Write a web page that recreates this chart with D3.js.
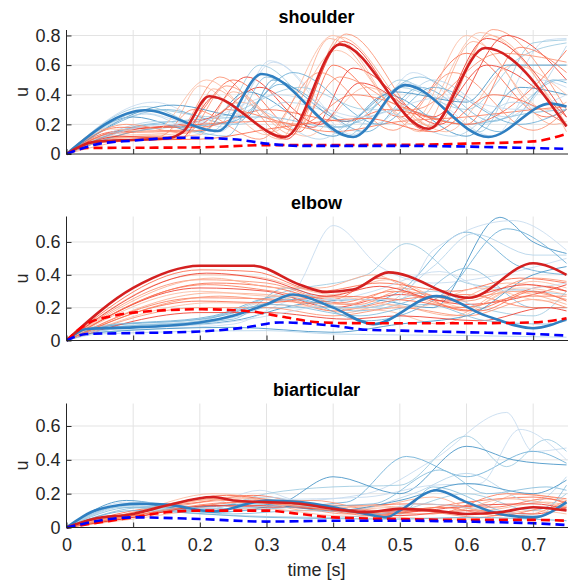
<!DOCTYPE html>
<html><head><meta charset="utf-8">
<script src="https://cdn.jsdelivr.net/npm/d3@7"></script>
<style>body{margin:0;background:#fff}svg{display:block}text{font-family:"Liberation Sans",Arial,sans-serif}</style>
</head><body><svg id="c" width="568" height="584"></svg>
<script>
// ---------- DATA (knots [t, u]) ----------
const panelNames = ["shoulder", "elbow", "biarticular"];
const yMax = [0.837, 0.755, 0.733];
const yTicks = [[0, 0.2, 0.4, 0.6, 0.8], [0, 0.2, 0.4, 0.6], [0, 0.2, 0.4, 0.6]];
const xTicks = [0, 0.1, 0.2, 0.3, 0.4, 0.5, 0.6, 0.7];

// shoulder
const shoulderRedThin = [
  [[0,0],[0.06,0.12],[0.15,0.14],[0.2,0.46],[0.3,0.13],[0.4,0.8],[0.52,0.2],[0.62,0.82],[0.75,0.2]],
  [[0,0],[0.05,0.1],[0.16,0.12],[0.23,0.52],[0.33,0.12],[0.42,0.81],[0.55,0.18],[0.64,0.84],[0.75,0.3]],
  [[0,0],[0.07,0.15],[0.17,0.16],[0.25,0.5],[0.35,0.15],[0.4,0.6],[0.5,0.25],[0.6,0.68],[0.72,0.25],[0.75,0.3]],
  [[0,0],[0.08,0.16],[0.2,0.2],[0.27,0.52],[0.37,0.18],[0.43,0.58],[0.56,0.2],[0.66,0.8],[0.75,0.5]],
  [[0,0],[0.05,0.08],[0.18,0.12],[0.22,0.44],[0.32,0.1],[0.395,0.78],[0.53,0.15],[0.61,0.76],[0.73,0.2],[0.75,0.22]],
  [[0,0],[0.1,0.15],[0.2,0.2],[0.3,0.22],[0.4,0.15],[0.5,0.22],[0.6,0.25],[0.7,0.3],[0.75,0.32]],
  [[0,0],[0.06,0.1],[0.19,0.15],[0.26,0.35],[0.36,0.12],[0.45,0.45],[0.57,0.15],[0.67,0.6],[0.75,0.4]],
  [[0,0],[0.05,0.11],[0.14,0.12],[0.19,0.3],[0.29,0.1],[0.38,0.55],[0.49,0.16],[0.58,0.55],[0.7,0.16],[0.75,0.3]],
  [[0,0],[0.08,0.18],[0.2,0.18],[0.3,0.3],[0.42,0.22],[0.48,0.3],[0.6,0.2],[0.7,0.45],[0.75,0.7]],
  [[0,0],[0.06,0.12],[0.22,0.25],[0.29,0.45],[0.38,0.2],[0.44,0.48],[0.55,0.25],[0.63,0.6],[0.75,0.25]],
  [[0,0],[0.1,0.1],[0.2,0.13],[0.25,0.42],[0.34,0.13],[0.41,0.79],[0.545,0.19],[0.635,0.8],[0.75,0.15]],
  [[0,0],[0.07,0.14],[0.21,0.16],[0.24,0.3],[0.35,0.2],[0.43,0.4],[0.6,0.2],[0.68,0.72],[0.75,0.55]],
  [[0,0],[0.06,0.17],[0.13,0.15],[0.21,0.5],[0.31,0.15],[0.405,0.7],[0.52,0.22],[0.6,0.8],[0.72,0.3],[0.75,0.35]],
  [[0,0],[0.09,0.2],[0.18,0.14],[0.24,0.46],[0.34,0.16],[0.41,0.52],[0.52,0.3],[0.65,0.68],[0.75,0.62]],
  [[0,0],[0.05,0.09],[0.2,0.1],[0.32,0.18],[0.45,0.24],[0.55,0.15],[0.64,0.4],[0.75,0.2]],
  [[0,0],[0.08,0.12],[0.17,0.1],[0.22,0.38],[0.33,0.1],[0.415,0.76],[0.54,0.16],[0.63,0.78],[0.75,0.25]]
];
const shoulderBlueThin = [
  [[0,0],[0.13,0.35],[0.24,0.18],[0.305,0.63],[0.44,0.15],[0.52,0.55],[0.63,0.2],[0.72,0.77],[0.75,0.78]],
  [[0,0],[0.12,0.32],[0.22,0.16],[0.29,0.6],[0.42,0.12],[0.5,0.5],[0.62,0.15],[0.7,0.75],[0.75,0.77]],
  [[0,0],[0.15,0.3],[0.25,0.2],[0.32,0.47],[0.45,0.15],[0.53,0.45],[0.65,0.15],[0.73,0.5],[0.75,0.48]],
  [[0,0],[0.1,0.25],[0.2,0.15],[0.27,0.42],[0.4,0.12],[0.48,0.4],[0.6,0.12],[0.68,0.45],[0.75,0.4]],
  [[0,0],[0.14,0.22],[0.26,0.2],[0.33,0.35],[0.46,0.2],[0.55,0.5],[0.66,0.25],[0.75,0.73]],
  [[0,0],[0.12,0.2],[0.3,0.25],[0.4,0.18],[0.5,0.3],[0.6,0.2],[0.7,0.28],[0.75,0.3]],
  [[0,0],[0.11,0.28],[0.23,0.15],[0.31,0.62],[0.43,0.13],[0.51,0.48],[0.64,0.12],[0.71,0.5],[0.75,0.45]],
  [[0,0],[0.13,0.3],[0.22,0.25],[0.35,0.45],[0.45,0.3],[0.5,0.45],[0.6,0.3],[0.68,0.65],[0.75,0.75]],
  [[0,0],[0.1,0.15],[0.25,0.22],[0.34,0.55],[0.47,0.2],[0.55,0.45],[0.68,0.2],[0.75,0.3]],
  [[0,0],[0.16,0.33],[0.27,0.25],[0.31,0.5],[0.42,0.22],[0.49,0.42],[0.6,0.35],[0.66,0.6],[0.75,0.6]],
  [[0,0],[0.12,0.27],[0.21,0.13],[0.28,0.3],[0.38,0.1],[0.46,0.3],[0.58,0.12],[0.67,0.35],[0.75,0.2]],
  [[0,0],[0.14,0.2],[0.24,0.12],[0.3,0.52],[0.41,0.18],[0.53,0.52],[0.64,0.22],[0.74,0.5],[0.75,0.5]],
  [[0,0],[0.11,0.18],[0.2,0.22],[0.32,0.4],[0.44,0.25],[0.56,0.38],[0.68,0.3],[0.75,0.4]]
];
const shoulderRedMain = [[0,0],[0.04,0.08],[0.1,0.095],[0.15,0.105],[0.175,0.15],[0.214,0.39],[0.328,0.115],[0.41,0.74],[0.543,0.17],[0.628,0.715],[0.75,0.185]];
const shoulderBlueMain = [[0,0],[0.118,0.295],[0.227,0.155],[0.293,0.54],[0.43,0.115],[0.508,0.465],[0.633,0.115],[0.726,0.34],[0.75,0.32]];
const shoulderRedDash = [[0,0],[0.03,0.04],[0.2,0.045],[0.3,0.06],[0.5,0.062],[0.6,0.07],[0.7,0.085],[0.75,0.135]];
const shoulderBlueDash = [[0,0],[0.05,0.07],[0.1,0.09],[0.17,0.11],[0.25,0.1],[0.3,0.07],[0.35,0.055],[0.5,0.055],[0.6,0.05],[0.7,0.04],[0.75,0.035]];

// elbow
const elbowRedThin = [
  [[0,0],[0.2,0.4],[0.28,0.39],[0.4,0.28],[0.48,0.37],[0.6,0.2],[0.7,0.36],[0.75,0.32]],
  [[0,0],[0.2,0.37],[0.3,0.35],[0.42,0.22],[0.5,0.32],[0.58,0.25],[0.68,0.3],[0.75,0.25]],
  [[0,0],[0.22,0.35],[0.3,0.33],[0.4,0.25],[0.47,0.38],[0.6,0.18],[0.72,0.33],[0.75,0.3]],
  [[0,0],[0.2,0.32],[0.3,0.3],[0.4,0.2],[0.5,0.28],[0.6,0.22],[0.7,0.28],[0.75,0.34]],
  [[0,0],[0.22,0.29],[0.3,0.28],[0.42,0.17],[0.48,0.22],[0.58,0.15],[0.66,0.3],[0.75,0.22]],
  [[0,0],[0.2,0.26],[0.32,0.25],[0.4,0.18],[0.5,0.25],[0.6,0.28],[0.7,0.2],[0.75,0.2]],
  [[0,0],[0.22,0.23],[0.3,0.22],[0.4,0.2],[0.48,0.18],[0.56,0.1],[0.68,0.32],[0.75,0.28]],
  [[0,0],[0.2,0.2],[0.3,0.2],[0.4,0.15],[0.5,0.2],[0.6,0.15],[0.7,0.25],[0.75,0.2]],
  [[0,0],[0.2,0.43],[0.28,0.42],[0.38,0.3],[0.47,0.35],[0.58,0.3],[0.68,0.38],[0.75,0.35]],
  [[0,0],[0.2,0.17],[0.3,0.17],[0.42,0.13],[0.5,0.15],[0.62,0.12],[0.72,0.2],[0.75,0.18]],
  [[0,0],[0.22,0.38],[0.32,0.32],[0.38,0.32],[0.46,0.4],[0.56,0.22],[0.66,0.35],[0.75,0.3]],
  [[0,0],[0.21,0.34],[0.31,0.3],[0.41,0.23],[0.49,0.3],[0.59,0.2],[0.69,0.27],[0.75,0.27]],
  [[0,0],[0.2,0.3],[0.3,0.27],[0.42,0.26],[0.52,0.2],[0.62,0.32],[0.72,0.24],[0.75,0.25]],
  [[0,0],[0.23,0.27],[0.32,0.24],[0.44,0.22],[0.5,0.3],[0.6,0.24],[0.7,0.38],[0.75,0.36]],
  [[0,0],[0.2,0.24],[0.3,0.23],[0.4,0.27],[0.52,0.24],[0.62,0.18],[0.7,0.3],[0.75,0.24]],
  [[0,0],[0.21,0.41],[0.3,0.37],[0.39,0.27],[0.47,0.33],[0.57,0.24],[0.69,0.34],[0.75,0.3]]
];
const elbowBlueThin = [
  [[0,0],[0.05,0.06],[0.2,0.1],[0.3,0.25],[0.34,0.3],[0.4,0.7],[0.47,0.45],[0.55,0.35],[0.65,0.4],[0.75,0.5]],
  [[0,0],[0.05,0.07],[0.2,0.12],[0.33,0.3],[0.45,0.4],[0.51,0.59],[0.6,0.35],[0.7,0.3],[0.75,0.28]],
  [[0,0],[0.05,0.08],[0.22,0.15],[0.32,0.27],[0.42,0.2],[0.5,0.3],[0.6,0.66],[0.68,0.45],[0.75,0.4]],
  [[0,0],[0.05,0.06],[0.25,0.12],[0.35,0.22],[0.45,0.25],[0.55,0.2],[0.65,0.75],[0.7,0.6],[0.75,0.53]],
  [[0,0],[0.05,0.07],[0.25,0.14],[0.36,0.28],[0.46,0.2],[0.55,0.45],[0.61,0.65],[0.7,0.52],[0.75,0.52]],
  [[0,0],[0.05,0.07],[0.25,0.13],[0.33,0.32],[0.43,0.18],[0.52,0.25],[0.6,0.44],[0.7,0.2],[0.75,0.2]],
  [[0,0],[0.05,0.05],[0.25,0.1],[0.35,0.25],[0.5,0.25],[0.55,0.55],[0.67,0.73],[0.75,0.55]],
  [[0,0],[0.05,0.07],[0.2,0.1],[0.3,0.2],[0.45,0.2],[0.55,0.3],[0.62,0.2],[0.7,0.15],[0.75,0.3]],
  [[0,0],[0.05,0.08],[0.22,0.14],[0.34,0.25],[0.45,0.12],[0.57,0.3],[0.66,0.68],[0.75,0.47]],
  [[0,0],[0.05,0.05],[0.25,0.08],[0.4,0.05],[0.5,0.1],[0.6,0.15],[0.7,0.4],[0.75,0.45]],
  [[0,0],[0.05,0.04],[0.3,0.06],[0.4,0.04],[0.6,0.03],[0.75,0.02]],
  [[0,0],[0.05,0.09],[0.2,0.13],[0.31,0.22],[0.44,0.15],[0.54,0.22],[0.63,0.12],[0.72,0.1],[0.75,0.12]],
  [[0,0],[0.05,0.06],[0.24,0.11],[0.34,0.18],[0.46,0.3],[0.56,0.42],[0.64,0.3],[0.75,0.35]]
];
const elbowRedMain = [[0,0],[0.1,0.32],[0.2,0.455],[0.28,0.455],[0.35,0.34],[0.39,0.295],[0.43,0.31],[0.483,0.415],[0.603,0.26],[0.70,0.47],[0.75,0.40]];
const elbowBlueMain = [[0,0],[0.03,0.07],[0.1,0.08],[0.15,0.09],[0.2,0.11],[0.25,0.15],[0.3,0.22],[0.34,0.28],[0.4,0.2],[0.46,0.1],[0.555,0.27],[0.63,0.15],[0.7,0.075],[0.75,0.13]];
const elbowRedDash = [[0,0],[0.03,0.1],[0.07,0.15],[0.13,0.18],[0.2,0.19],[0.27,0.18],[0.33,0.14],[0.38,0.11],[0.45,0.105],[0.6,0.105],[0.7,0.11],[0.75,0.135]];
const elbowBlueDash = [[0,0],[0.03,0.04],[0.1,0.045],[0.2,0.055],[0.27,0.08],[0.32,0.11],[0.4,0.09],[0.45,0.065],[0.5,0.06],[0.6,0.05],[0.7,0.04],[0.75,0.03]];

// biarticular
const biartRedThin = [
  [[0,0],[0.1,0.09],[0.22,0.2],[0.3,0.17],[0.4,0.1],[0.5,0.12],[0.6,0.08],[0.68,0.2],[0.75,0.16]],
  [[0,0],[0.1,0.07],[0.24,0.16],[0.32,0.14],[0.42,0.08],[0.52,0.1],[0.62,0.06],[0.7,0.12],[0.75,0.1]],
  [[0,0],[0.1,0.1],[0.2,0.15],[0.28,0.19],[0.38,0.12],[0.48,0.08],[0.6,0.15],[0.7,0.18],[0.75,0.15]],
  [[0,0],[0.1,0.06],[0.2,0.12],[0.3,0.13],[0.4,0.1],[0.5,0.07],[0.6,0.1],[0.7,0.08],[0.75,0.12]],
  [[0,0],[0.1,0.08],[0.25,0.18],[0.35,0.13],[0.45,0.12],[0.55,0.18],[0.62,0.1],[0.72,0.15],[0.75,0.13]],
  [[0,0],[0.1,0.07],[0.23,0.14],[0.33,0.16],[0.43,0.09],[0.55,0.08],[0.66,0.2],[0.75,0.17]],
  [[0,0],[0.1,0.05],[0.2,0.1],[0.3,0.11],[0.4,0.07],[0.5,0.06],[0.6,0.05],[0.7,0.1],[0.75,0.08]],
  [[0,0],[0.1,0.09],[0.21,0.17],[0.29,0.15],[0.37,0.16],[0.47,0.1],[0.58,0.12],[0.68,0.07],[0.75,0.16]],
  [[0,0],[0.1,0.08],[0.24,0.19],[0.33,0.15],[0.42,0.13],[0.52,0.14],[0.64,0.12],[0.72,0.17],[0.75,0.14]],
  [[0,0],[0.1,0.06],[0.22,0.13],[0.31,0.12],[0.41,0.11],[0.5,0.09],[0.61,0.13],[0.7,0.14],[0.75,0.11]],
  [[0,0],[0.1,0.08],[0.2,0.16],[0.27,0.17],[0.36,0.1],[0.46,0.13],[0.57,0.09],[0.66,0.17],[0.75,0.12]],
  [[0,0],[0.1,0.07],[0.26,0.15],[0.36,0.12],[0.46,0.07],[0.56,0.12],[0.65,0.07],[0.73,0.12],[0.75,0.12]]
];
const biartBlueThin = [
  [[0,0],[0.09,0.15],[0.2,0.12],[0.29,0.22],[0.35,0.16],[0.45,0.2],[0.55,0.4],[0.66,0.68],[0.7,0.45],[0.75,0.47]],
  [[0,0],[0.1,0.14],[0.2,0.1],[0.3,0.2],[0.4,0.24],[0.5,0.25],[0.6,0.54],[0.66,0.36],[0.72,0.52],[0.75,0.45]],
  [[0,0],[0.08,0.13],[0.2,0.11],[0.3,0.12],[0.42,0.15],[0.51,0.42],[0.6,0.3],[0.7,0.45],[0.75,0.38]],
  [[0,0],[0.1,0.14],[0.22,0.09],[0.32,0.14],[0.4,0.3],[0.5,0.2],[0.6,0.48],[0.67,0.4],[0.75,0.37]],
  [[0,0],[0.1,0.13],[0.2,0.1],[0.3,0.18],[0.42,0.1],[0.52,0.2],[0.6,0.32],[0.7,0.15],[0.75,0.3]],
  [[0,0],[0.12,0.12],[0.25,0.08],[0.35,0.1],[0.5,0.08],[0.55,0.24],[0.65,0.1],[0.7,0.05],[0.75,0.25]],
  [[0,0],[0.1,0.14],[0.22,0.12],[0.3,0.16],[0.45,0.18],[0.55,0.25],[0.62,0.26],[0.68,0.58],[0.75,0.4]],
  [[0,0],[0.08,0.12],[0.2,0.08],[0.4,0.06],[0.5,0.1],[0.6,0.2],[0.7,0.1],[0.75,0.2]],
  [[0,0],[0.1,0.1],[0.3,0.06],[0.5,0.05],[0.6,0.06],[0.75,0.04]],
  [[0,0],[0.09,0.16],[0.18,0.12],[0.28,0.14],[0.4,0.1],[0.5,0.16],[0.6,0.26],[0.7,0.2],[0.75,0.28]],
  [[0,0],[0.11,0.15],[0.22,0.11],[0.33,0.13],[0.45,0.09],[0.53,0.14],[0.64,0.1],[0.71,0.07],[0.75,0.14]],
  [[0,0],[0.1,0.12],[0.21,0.09],[0.34,0.12],[0.46,0.14],[0.56,0.34],[0.63,0.2],[0.72,0.24],[0.75,0.22]]
];
const biartRedMain = [[0,0],[0.04,0.05],[0.1,0.08],[0.15,0.13],[0.22,0.18],[0.25,0.16],[0.3,0.15],[0.35,0.14],[0.4,0.11],[0.45,0.09],[0.5,0.11],[0.55,0.1],[0.6,0.08],[0.65,0.09],[0.7,0.12],[0.75,0.1]];
const biartBlueMain = [[0,0],[0.05,0.11],[0.11,0.14],[0.15,0.135],[0.22,0.095],[0.3,0.16],[0.35,0.15],[0.4,0.12],[0.45,0.08],[0.48,0.06],[0.5,0.1],[0.555,0.22],[0.6,0.15],[0.65,0.08],[0.7,0.06],[0.75,0.15]];
const biartRedDash = [[0,0],[0.1,0.06],[0.15,0.09],[0.2,0.1],[0.3,0.1],[0.35,0.08],[0.4,0.06],[0.5,0.05],[0.6,0.045],[0.7,0.045],[0.75,0.04]];
const biartBlueDash = [[0,0],[0.1,0.06],[0.2,0.05],[0.3,0.035],[0.4,0.04],[0.5,0.04],[0.6,0.035],[0.7,0.025],[0.75,0.015]];

const panelData = [
  {redThin: shoulderRedThin, blueThin: shoulderBlueThin, redMain: shoulderRedMain, blueMain: shoulderBlueMain, redDash: shoulderRedDash, blueDash: shoulderBlueDash},
  {redThin: elbowRedThin, blueThin: elbowBlueThin, redMain: elbowRedMain, blueMain: elbowBlueMain, redDash: elbowRedDash, blueDash: elbowBlueDash},
  {redThin: biartRedThin, blueThin: biartBlueThin, redMain: biartRedMain, blueMain: biartBlueMain, redDash: biartRedDash, blueDash: biartBlueDash}
];

// ---------- DRAW ----------
const svg = d3.select("#c");
const left = 66.5, right = 566.5, tops = [30, 216.5, 403.5], H = 124;
const FS = 18;
const x = d3.scaleLinear().domain([0, 0.75]).range([left, right]);
const redShades = ["#fcbba1","#fc9272","#fb6a4a","#ef3b2c","#fcae91","#fb7a5a"];
const blueShades = ["#c6dbef","#9ecae1","#6baed6","#4292c6","#b4d4ea","#85bcdc"];
const fmt = d => d === 0 ? "0" : d3.format(".1f")(d);

panelData.forEach((P, i) => {
  const top = tops[i];
  const y = d3.scaleLinear().domain([0, yMax[i]]).range([top + H, top]);
  const g = svg.append("g");
  const cid = "clip" + i;
  svg.append("clipPath").attr("id", cid).append("rect")
    .attr("x", left).attr("y", top - 2).attr("width", right - left + 2).attr("height", H + 4);

  // grid
  g.append("g").selectAll("line").data(xTicks.slice(1)).join("line")
    .attr("x1", d => x(d)).attr("x2", d => x(d)).attr("y1", top).attr("y2", top + H)
    .attr("stroke", "#e3e3e3").attr("stroke-width", 1);
  g.append("g").selectAll("line").data(yTicks[i].slice(1)).join("line")
    .attr("x1", left).attr("x2", right + 2).attr("y1", d => y(d)).attr("y2", d => y(d))
    .attr("stroke", "#e3e3e3").attr("stroke-width", 1);

  const line = d3.line().x(d => x(d[0])).y(d => y(d[1])).curve(d3.curveMonotoneX);
  const lg = g.append("g").attr("clip-path", `url(#${cid})`).attr("fill", "none");

  const n = Math.max(P.redThin.length, P.blueThin.length);
  for (let k = 0; k < n; k++) {
    if (P.blueThin[k]) lg.append("path").attr("d", line(P.blueThin[k]))
      .attr("stroke", blueShades[k % blueShades.length]).attr("stroke-width", 1).attr("stroke-opacity", 0.85);
    if (P.redThin[k]) lg.append("path").attr("d", line(P.redThin[k]))
      .attr("stroke", redShades[k % redShades.length]).attr("stroke-width", 1).attr("stroke-opacity", 0.85);
  }
  lg.append("path").attr("d", line(P.blueMain)).attr("stroke", "#2f7fc1").attr("stroke-width", 2.6);
  lg.append("path").attr("d", line(P.redMain)).attr("stroke", "#d42020").attr("stroke-width", 2.6);
  lg.append("path").attr("d", line(P.redDash)).attr("stroke", "#ff0000").attr("stroke-width", 2.6).attr("stroke-dasharray", "9,5");
  lg.append("path").attr("d", line(P.blueDash)).attr("stroke", "#0000ff").attr("stroke-width", 2.6).attr("stroke-dasharray", "9,5");

  // axes
  const ya = d3.axisLeft(y).tickValues(yTicks[i]).tickSize(-5).tickPadding(6).tickFormat(fmt);
  const yg = g.append("g").attr("transform", `translate(${left},0)`).call(ya);
  yg.select(".domain").attr("d", `M0,${top}V${top + H}`);
  const xa = d3.axisBottom(x).tickValues(xTicks).tickSize(-5).tickPadding(11)
    .tickFormat(i === 2 ? fmt : () => "");
  const xg = g.append("g").attr("transform", `translate(0,${top + H})`).call(xa);
  xg.select(".domain").attr("d", `M${left},0H${right + 2}`);
  [yg, xg].forEach(a => {
    a.selectAll(".domain").attr("stroke", "#262626").attr("stroke-width", 1);
    a.selectAll(".tick line").attr("stroke", "#262626");
    a.selectAll("text").attr("fill", "#262626").attr("font-size", FS).attr("font-family", "Liberation Sans, Arial, sans-serif");
  });

  // title + y label
  svg.append("text").attr("x", (left + right) / 2).attr("y", top - 7.5).attr("text-anchor", "middle")
    .attr("font-size", 18).attr("font-weight", "bold").attr("fill", "#000").text(panelNames[i]);
  svg.append("text").attr("transform", `translate(28,${top + H / 2}) rotate(-90)`).attr("text-anchor", "middle")
    .attr("font-size", FS).attr("fill", "#262626").text("u");
});

svg.append("text").attr("x", (left + right) / 2).attr("y", 576).attr("text-anchor", "middle")
  .attr("font-size", FS).attr("fill", "#262626").text("time [s]");
</script></body></html>
